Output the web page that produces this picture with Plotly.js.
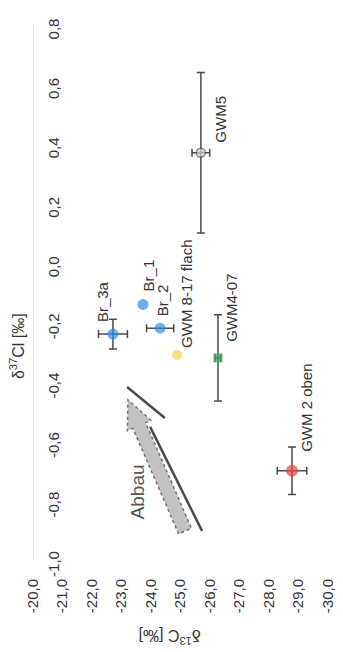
<!DOCTYPE html>
<html>
<head>
<meta charset="utf-8">
<script src="https://cdn.plot.ly/plotly-3.0.1.min.js"></script>
<style>
html,body{margin:0;padding:0;background:#fff;}
#chart{width:343px;height:652px;}
</style>
</head>
<body>
<div id="chart"></div>
<script>
// ---- data ----
const samples = ["GWM5", "Br_3a", "Br_1", "Br_2", "GWM 8-17 flach", "GWM4-07", "GWM 2 oben"];
const d13C    = [-25.69, -22.71, -23.73, -24.31, -24.88, -26.27, -28.78];
const d37Cl   = [0.37, -0.24, -0.14, -0.22, -0.31, -0.32, -0.70];
const err13C  = [0.30, 0.49, null, 0.46, null, 0.10, 0.50];
const err37Cl = [0.27, 0.05, null, null, null, 0.145, 0.08];

const xTickVals = [-20, -21, -22, -23, -24, -25, -26, -27, -28, -29, -30];
const xTickText = ["-20,0", "-21,0", "-22,0", "-23,0", "-24,0", "-25,0", "-26,0", "-27,0", "-28,0", "-29,0", "-30,0"];
const yTickVals = [-1.0, -0.8, -0.6, -0.4, -0.2, 0.0, 0.2, 0.4, 0.6, 0.8];
const yTickText = ["-1,0", "-0,8", "-0,6", "-0,4", "-0,2", "0,0", "0,2", "0,4", "0,6", "0,8"];

// ---- styles ----
const markerColors = ["#cfcfcf", "#2f8de4", "#2f8de4", "#2f8de4", "#f6d24a", "#3ea35f", "#f04343"];
const markerSymbols = ["circle", "circle", "circle", "circle", "circle", "square", "circle"];
const markerSizes = [9, 11, 11, 11, 10, 9, 12];
const markerLineWidths = [1.5, 0, 0, 0, 0, 0, 0];
const labelShift = [[20, 34], [-11, 33], [5, 29], [2, 28], [10, 61], [14, 50], [15, 63]];

const FONT = "Liberation Sans, Arial, sans-serif";
const TXT = "#333333";
const PAD = "\u00a0\u00a0\u00a0"; // nudges rotated y tick labels like the reference
const toErr = a => a.map(v => (v === null ? NaN : v));

const trace = {
  type: "scatter",
  mode: "markers",
  x: d13C,
  y: d37Cl,
  text: samples,
  marker: {
    color: markerColors,
    symbol: markerSymbols,
    size: markerSizes,
    line: { color: "#555555", width: markerLineWidths }
  },
  error_x: { type: "data", array: toErr(err13C), visible: true, color: "#4a4a4a", thickness: 1.5, width: 4 },
  error_y: { type: "data", array: toErr(err37Cl), visible: true, color: "#4a4a4a", thickness: 1.5, width: 4 },
  hoverinfo: "none",
  showlegend: false
};

const labelAnns = samples.map((s, i) => ({
  x: d13C[i], y: d37Cl[i], xref: "x", yref: "y",
  text: s, showarrow: false, textangle: -90,
  xanchor: "center", yanchor: "middle",
  xshift: labelShift[i][0], yshift: labelShift[i][1],
  font: { family: FONT, size: 15, color: TXT }
}));

const otherAnns = [
  { xref: "paper", yref: "paper", x: -0.054, y: 0.40, text: "δ<sup>37</sup>Cl [‰]", showarrow: false,
    textangle: -90, xanchor: "center", yanchor: "middle", font: { family: FONT, size: 16, color: TXT } },
  { xref: "paper", yref: "paper", x: 0.464, y: -0.144, text: "δ<sup>13</sup>C [‰]", showarrow: false,
    textangle: 180, xanchor: "center", yanchor: "middle", font: { family: FONT, size: 16, color: TXT } },
  { xref: "x", yref: "y", x: -23.55, y: -0.77, text: "Abbau", showarrow: false,
    textangle: -90, xanchor: "center", yanchor: "middle", font: { family: FONT, size: 19, color: "#555555" } }
];

const shapes = [
  // grey block arrow (decoration)
  { type: "path", xref: "x", yref: "y",
    path: "M -24.936,-0.912 L -23.383,-0.557 L -23.197,-0.565 L -23.22,-0.461 L -24.003,-0.530 L -23.817,-0.538 L -25.369,-0.893 Z",
    fillcolor: "#c2c2c2", line: { color: "#6e6e6e", width: 1.5, dash: "dot" } },
  // dark shadow lines
  { type: "line", xref: "x", yref: "y", x0: -23.19, y0: -0.418, x1: -24.47, y1: -0.522,
    line: { color: "#4a4a4a", width: 2.5 } },
  { type: "line", xref: "x", yref: "y", x0: -23.97, y0: -0.552, x1: -25.73, y1: -0.902,
    line: { color: "#4a4a4a", width: 2.5 } }
];

const layout = {
  width: 343, height: 652,
  margin: { l: 33, r: 15, t: 25, b: 92 },
  paper_bgcolor: "#ffffff", plot_bgcolor: "#ffffff",
  font: { family: FONT, color: TXT },
  xaxis: {
    range: [-20, -30], autorange: false,
    tickmode: "array", tickvals: xTickVals, ticktext: xTickText,
    tickangle: -90, ticks: "", ticklabelstandoff: 15,
    tickfont: { family: FONT, size: 15, color: TXT },
    showgrid: false, zeroline: false, showline: false
  },
  yaxis: {
    range: [-1.0, 0.8], autorange: false,
    anchor: "free", position: 0, side: "right",
    tickmode: "array", tickvals: yTickVals, ticktext: yTickText.map(t => t + PAD),
    tickangle: -90, ticks: "", ticklabelstandoff: 7,
    tickfont: { family: FONT, size: 15, color: TXT },
    showgrid: false, zeroline: false,
    showline: true, linecolor: "#e6e6e6", linewidth: 1
  },
  shapes: shapes,
  annotations: labelAnns.concat(otherAnns)
};

Plotly.newPlot("chart", [trace], layout, { staticPlot: true, displayModeBar: false });
</script>
</body>
</html>
